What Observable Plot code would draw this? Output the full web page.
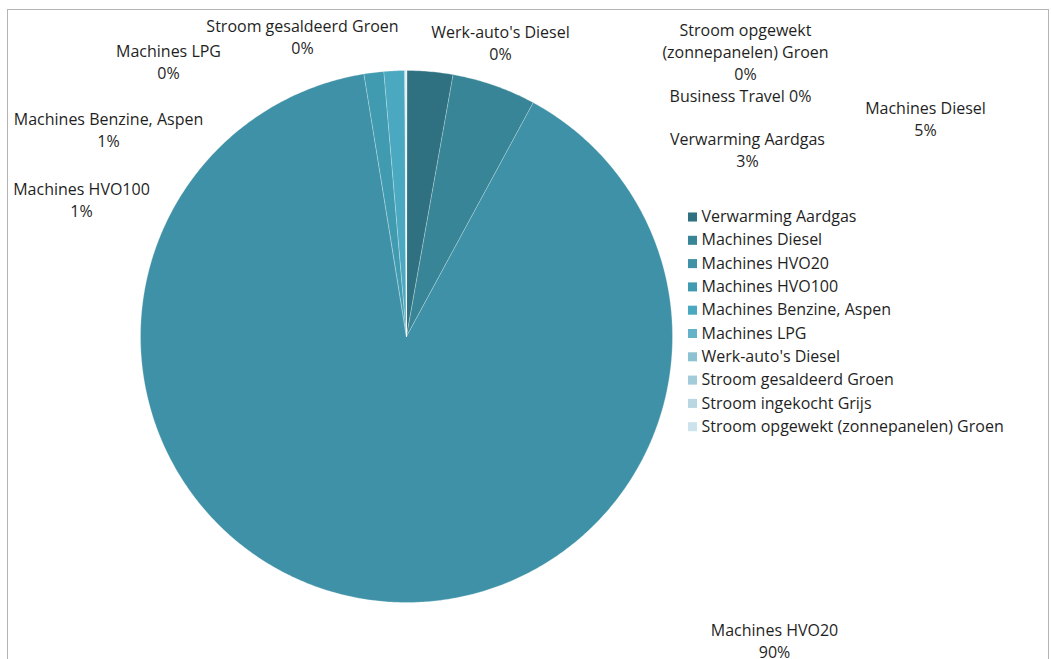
<!DOCTYPE html>
<html><head><meta charset="utf-8">
<script src="https://cdn.jsdelivr.net/npm/d3@7"></script>
<script src="https://cdn.jsdelivr.net/npm/@observablehq/plot@0.6"></script>
<style>
body{margin:0;background:#fff;}
#wrap{position:relative;width:1051px;height:659px;overflow:hidden;background:#fff;}
#border{position:absolute;left:7px;top:9px;width:1042px;height:720px;border:1px solid #b4b4b4;box-sizing:border-box;}
#chart{position:absolute;left:0;top:0;}
</style></head><body>
<div id="wrap"><div id="border"></div><div id="chart"></div></div>
<script>
// ---- data ----
const categories = [
  "Verwarming Aardgas",
  "Machines Diesel",
  "Machines HVO20",
  "Machines HVO100",
  "Machines Benzine, Aspen",
  "Machines LPG",
  "Werk-auto's Diesel",
  "Stroom gesaldeerd Groen",
  "Stroom ingekocht Grijs",
  "Stroom opgewekt (zonnepanelen) Groen",
  "Business Travel"
];
const shares = [2.8, 5.1, 89.52, 1.2, 1.25, 0.02, 0.02, 0.02, 0.02, 0.02, 0.01];
const colors = ["#2f7181", "#378596", "#3e91a6", "#419bb0", "#4aa8c0", "#63b2c7",
                "#8cc2d2", "#a3cbd9", "#b8d7e2", "#cde3eb", "#e0eef3"];
const legendCategories = categories.slice(0, 10);

// ---- layout (pixels) ----
const W = 1051, H = 659;
const CX = 406, CY = 336, R = 266;
const px2x = px => (px - CX) / R;
const py2y = py => (CY - py) / R;
const FONT = "'Open Sans', Lato, sans-serif";
const FS = 16;
const labelLayout = [
  {name: "Verwarming Aardgas", lines: ["Verwarming Aardgas"], px: 747, py: 148},
  {name: "Machines Diesel", lines: ["Machines Diesel"], px: 925, py: 117},
  {name: "Machines HVO20", lines: ["Machines HVO20"], px: 774, py: 639},
  {name: "Machines HVO100", lines: ["Machines HVO100"], px: 81, py: 198},
  {name: "Machines Benzine, Aspen", lines: ["Machines Benzine, Aspen"], px: 108, py: 128},
  {name: "Machines LPG", lines: ["Machines LPG"], px: 168, py: 60},
  {name: "Werk-auto's Diesel", lines: ["Werk-auto's Diesel"], px: 500, py: 41},
  {name: "Stroom gesaldeerd Groen", lines: ["Stroom gesaldeerd Groen"], px: 302, py: 35},
  {name: "Stroom opgewekt (zonnepanelen) Groen", lines: ["Stroom opgewekt", "(zonnepanelen) Groen"], px: 745, py: 50},
  {name: "Business Travel", lines: ["Business Travel"], px: 740, py: 94, inline: true}
];
const legendX = 692, legendY0 = 216.5, legendStep = 23.3;

// ---- build slices ----
const total = d3.sum(shares);
const arcs = d3.pie().sort(null).value(d => d)(shares);
const slicePts = [];
arcs.forEach((a, i) => {
  const name = categories[i];
  slicePts.push({name, x: 0, y: 0});
  const n = Math.max(2, Math.ceil((a.endAngle - a.startAngle) / (Math.PI / 360)));
  for (let k = 0; k <= n; k++) {
    const t = a.startAngle + (a.endAngle - a.startAngle) * k / n;
    slicePts.push({name, x: Math.sin(t), y: Math.cos(t)});
  }
});

const pct = name => Math.round(shares[categories.indexOf(name)] / total * 100) + "%";
const labels = labelLayout.map(l => ({
  x: px2x(l.px), y: py2y(l.py),
  text: l.inline ? l.lines.join(" ") + " " + pct(l.name) : [...l.lines, pct(l.name)].join("\n")
}));
const legend = legendCategories.map((name, i) => ({
  name, x: px2x(legendX), y: py2y(legendY0 + i * legendStep), tx: px2x(legendX + 9)
}));

const chart = Plot.plot({
  width: W, height: H,
  marginTop: 0, marginRight: 0, marginBottom: 0, marginLeft: 0,
  x: {domain: [px2x(0), px2x(W)], axis: null},
  y: {domain: [py2y(H), py2y(0)], axis: null},
  color: {type: "ordinal", domain: categories, range: colors},
  style: {fontFamily: FONT, fontSize: FS + "px", background: "transparent", overflow: "visible"},
  marks: [
    Plot.line(slicePts, {x: "x", y: "y", z: "name", fill: "name", stroke: "#ffffff",
      strokeWidth: 0.7, strokeOpacity: 0.4, curve: "linear-closed"}),
    Plot.text(labels, {x: "x", y: "y", text: "text", fill: "#1f1f1f", fontSize: FS,
      lineHeight: 22 / FS, textAnchor: "middle"}),
    Plot.dot(legend, {x: "x", y: "y", fill: "name", symbol: "square", r: 5.1, stroke: null}),
    Plot.text(legend, {x: "tx", y: "y", text: "name", fill: "#1f1f1f", fontSize: FS,
      textAnchor: "start"})
  ]
});
document.getElementById("chart").appendChild(chart);
</script>
</body></html>
